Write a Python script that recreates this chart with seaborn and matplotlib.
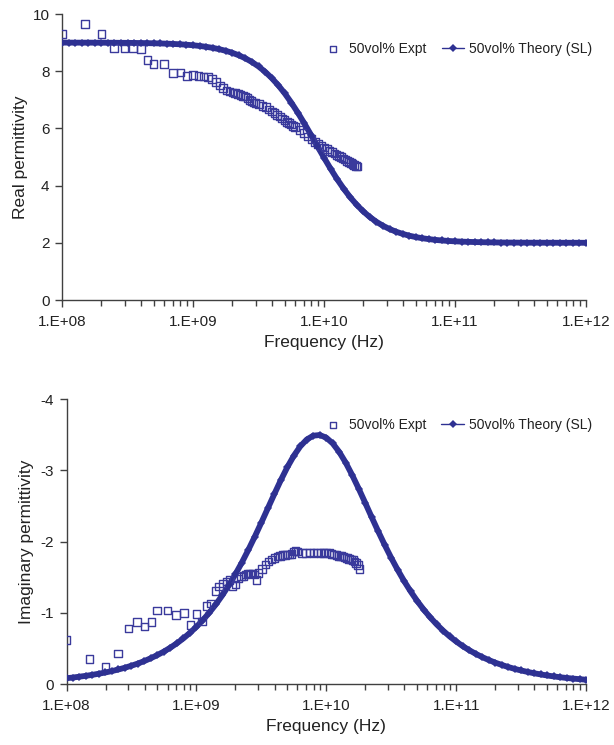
import numpy as np
import pandas as pd
import matplotlib
matplotlib.use("Agg")
import matplotlib.pyplot as plt
from matplotlib.ticker import FixedLocator, LogLocator, NullFormatter
import seaborn as sns

# ---------------- data ----------------
# experimental frequencies (GHz)
expt_freq_ghz = [0.1, 0.15, 0.2, 0.25, 0.3, 0.35, 0.4, 0.45,
                 0.5, 0.6, 0.7, 0.8, 0.9, 1.0,
                 1.1, 1.2, 1.3, 1.4, 1.5, 1.6, 1.7, 1.8, 1.9, 2.0,
                 2.1, 2.2, 2.3, 2.4, 2.5, 2.6, 2.7, 2.8, 2.9, 3.0,
                 3.2, 3.4, 3.6, 3.8, 4.0, 4.2, 4.4, 4.6, 4.8, 5.0,
                 5.2, 5.4, 5.6, 5.8, 6.0,
                 6.5, 7.0, 7.5, 8.0, 8.5, 9.0, 9.5, 10.0, 10.5, 11.0,
                 11.5, 12.0, 12.5, 13.0, 13.5, 14.0, 14.5, 15.0, 15.5,
                 16.0, 16.5, 17.0, 17.5, 18.0]

expt_real = [9.30, 9.65, 9.31, 8.82, 8.79, 8.82, 8.77, 8.40,
             8.26, 8.26, 7.94, 7.95, 7.83, 7.86,
             7.83, 7.82, 7.80, 7.72, 7.62, 7.50, 7.42, 7.33, 7.29, 7.26,
             7.23, 7.20, 7.17, 7.14, 7.11, 7.06, 7.00, 6.95, 6.91, 6.89,
             6.85, 6.79, 6.74, 6.66, 6.59, 6.53, 6.47, 6.41, 6.35, 6.29,
             6.23, 6.19, 6.14, 6.08, 6.04,
             5.95, 5.84, 5.72, 5.62, 5.53, 5.46, 5.39, 5.33, 5.28, 5.22,
             5.17, 5.12, 5.07, 5.03, 4.99, 4.95, 4.91, 4.87, 4.83,
             4.79, 4.76, 4.72, 4.69, 4.67]

expt_imag = [-0.62, -0.35, -0.24, -0.43, -0.78, -0.87, -0.81, -0.87,
             -1.03, -1.03, -0.97, -1.00, -0.83, -0.98,
             -0.88, -1.10, -1.13, -1.31, -1.37, -1.41, -1.44, -1.46, -1.38, -1.40,
             -1.48, -1.51, -1.52, -1.54, -1.55, -1.55, -1.55, -1.54, -1.46, -1.56,
             -1.62, -1.68, -1.72, -1.75, -1.77, -1.79, -1.80, -1.81, -1.81, -1.82,
             -1.82, -1.83, -1.86, -1.87, -1.86,
             -1.84, -1.84, -1.85, -1.84, -1.85, -1.84, -1.84, -1.85, -1.84, -1.83,
             -1.82, -1.81, -1.80, -1.80, -1.79, -1.78, -1.77, -1.76, -1.75,
             -1.74, -1.72, -1.70, -1.67, -1.62]

# theory: log10 of frequency (Hz)
theory_log_freq = [8.00, 8.05, 8.10, 8.15, 8.20, 8.25, 8.30, 8.35, 8.40, 8.45,
                   8.50, 8.55, 8.60, 8.65, 8.70, 8.75, 8.80, 8.85, 8.90, 8.95,
                   9.00, 9.05, 9.10, 9.15, 9.20, 9.25, 9.30, 9.35, 9.40, 9.45,
                   9.50, 9.55, 9.60, 9.65, 9.70, 9.75, 9.80, 9.85, 9.90, 9.95,
                   10.00, 10.05, 10.10, 10.15, 10.20, 10.25, 10.30, 10.35, 10.40, 10.45,
                   10.50, 10.55, 10.60, 10.65, 10.70, 10.75, 10.80, 10.85, 10.90, 10.95,
                   11.00, 11.05, 11.10, 11.15, 11.20, 11.25, 11.30, 11.35, 11.40, 11.45,
                   11.50, 11.55, 11.60, 11.65, 11.70, 11.75, 11.80, 11.85, 11.90, 11.95,
                   12.00]

theory_real = [9.000, 9.000, 8.998, 8.998, 8.998, 8.997, 8.996, 8.995, 8.994, 8.992,
               8.991, 8.988, 8.985, 8.981, 8.976, 8.970, 8.963, 8.953, 8.941, 8.926,
               8.907, 8.883, 8.853, 8.816, 8.770, 8.713, 8.643, 8.556, 8.450, 8.321,
               8.167, 7.982, 7.765, 7.513, 7.226, 6.904, 6.551, 6.173, 5.778, 5.375,
               4.976, 4.591, 4.227, 3.893, 3.592, 3.327, 3.097, 2.900, 2.734, 2.596,
               2.482, 2.388, 2.312, 2.250, 2.200, 2.160, 2.128, 2.102, 2.081, 2.065,
               2.051, 2.041, 2.033, 2.026, 2.021, 2.016, 2.013, 2.010, 2.008, 2.007,
               2.005, 2.004, 2.003, 2.003, 2.002, 2.002, 2.001, 2.001, 2.001, 2.001,
               2.000]

theory_imag = [-0.081, -0.091, -0.103, -0.115, -0.129, -0.145, -0.162, -0.182, -0.204, -0.229,
               -0.257, -0.288, -0.323, -0.363, -0.407, -0.456, -0.511, -0.572, -0.641, -0.718,
               -0.803, -0.898, -1.003, -1.119, -1.247, -1.388, -1.541, -1.706, -1.884, -2.071,
               -2.267, -2.468, -2.668, -2.863, -3.045, -3.206, -3.339, -3.435, -3.489, -3.498,
               -3.461, -3.380, -3.260, -3.109, -2.934, -2.744, -2.545, -2.343, -2.145, -1.954,
               -1.773, -1.603, -1.445, -1.300, -1.167, -1.046, -0.937, -0.838, -0.749, -0.669,
               -0.598, -0.533, -0.476, -0.425, -0.379, -0.338, -0.301, -0.269, -0.239, -0.213,
               -0.190, -0.170, -0.151, -0.135, -0.120, -0.107, -0.095, -0.085, -0.076, -0.068,
               -0.060]

x_tick_values = [1e8, 1e9, 1e10, 1e11, 1e12]
x_tick_labels = ["1.E+08", "1.E+09", "1.E+10", "1.E+11", "1.E+12"]
real_ticks = [0, 2, 4, 6, 8, 10]
imag_ticks = [0, -1, -2, -3, -4]

expt_label = "50vol% Expt"
theory_label = "50vol% Theory (SL)"

# ---------------- tables ----------------
expt = pd.DataFrame({"f": np.array(expt_freq_ghz) * 1e9,
                     "real": expt_real, "imag": expt_imag})
theory = pd.DataFrame({"f": 10.0 ** np.array(theory_log_freq),
                       "real": theory_real, "imag": theory_imag})

# ---------------- style ----------------
sns.set_style("ticks")
plt.rcParams["font.family"] = ["Liberation Sans", "DejaVu Sans"]
plt.rcParams["axes.unicode_minus"] = False

NAVY = "#2E3192"
SQ = "#3a3a9c"
AXC = "#404040"

fig = plt.figure(figsize=(6.14, 7.45), dpi=100)
ax1 = fig.add_axes([62 / 614, 1 - 300 / 745, 524 / 614, 286 / 745])
ax2 = fig.add_axes([66.5 / 614, 1 - 684 / 745, 519.5 / 614, 284.7 / 745])


def draw(ax, col, ylim, yticks, ylabel, leg_y, ylabelpad):
    ax.set_xscale("log")
    # thick band beneath theory markers
    sns.lineplot(data=theory, x="f", y=col, ax=ax, color=NAVY, linewidth=4.2,
                 legend=False, zorder=2)
    sns.scatterplot(data=expt, x="f", y=col, ax=ax, marker="s", s=30,
                    facecolor="none", edgecolor=SQ, linewidth=1.0,
                    label=expt_label, zorder=3)
    sns.lineplot(data=theory, x="f", y=col, ax=ax, color=NAVY, linewidth=1.0,
                 marker="D", markersize=4.5, markeredgewidth=0,
                 label=theory_label, zorder=4)
    ax.set_xlim(1e8, 1e12)
    ax.set_ylim(*ylim)
    ax.set_yticks(yticks)
    ax.set_yticklabels([str(t) for t in yticks])
    ax.xaxis.set_major_locator(FixedLocator(x_tick_values))
    ax.set_xticklabels(x_tick_labels)
    ax.xaxis.set_minor_locator(LogLocator(base=10, subs=np.arange(2, 10), numticks=50))
    ax.xaxis.set_minor_formatter(NullFormatter())
    ax.tick_params(axis="both", which="major", direction="out", length=5,
                   width=1, color=AXC, labelsize=11, labelcolor="#222222", pad=6)
    ax.tick_params(axis="y", which="major", pad=4)
    ax.tick_params(axis="x", which="minor", direction="out", length=4,
                   width=1, color=AXC)
    for s in ["top", "right"]:
        ax.spines[s].set_visible(False)
    for s in ["left", "bottom"]:
        ax.spines[s].set_color(AXC)
        ax.spines[s].set_linewidth(1)
    ax.set_xlabel("Frequency (Hz)", fontsize=12.5, color="#222222", labelpad=4)
    ax.set_ylabel(ylabel, fontsize=12.5, color="#222222", labelpad=ylabelpad)
    leg = ax.legend(loc="center right", bbox_to_anchor=(1.035, leg_y), ncol=2,
                    frameon=False, fontsize=10, handlelength=1.6,
                    handletextpad=0.35, columnspacing=1.1, markerscale=0.8)
    for t in leg.get_texts():
        t.set_color("#222222")


draw(ax1, "real", (0, 10), real_ticks, "Real permittivity", 0.878, 3)
draw(ax2, "imag", (0, -4), imag_ticks, "Imaginary permittivity", 0.91, 5)

fig.savefig("out.png", dpi=100)
